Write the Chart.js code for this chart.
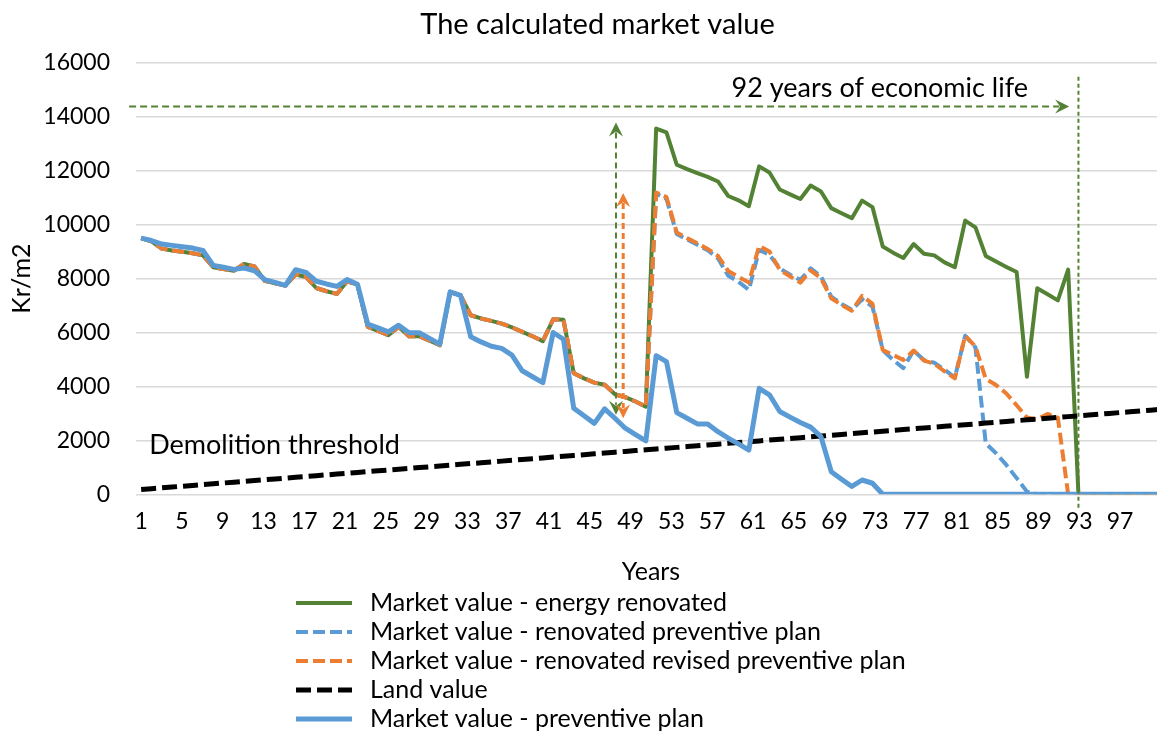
<!DOCTYPE html>
<html>
<head>
<meta charset="utf-8">
<title>The calculated market value</title>
<script src="https://cdn.jsdelivr.net/npm/chart.js"></script>
<style>
  html, body { margin: 0; padding: 0; background: #fff; overflow: hidden; }
  #wrap { width: 1195px; height: 733px; }
</style>
</head>
<body>
<div id="wrap"><canvas id="myChart" width="1195" height="733"></canvas></div>
<script>
// years 1..100 on the category axis
var years = [];
for (var y = 1; y <= 100; y++) years.push(String(y));
// the label axis of the original has one extra, empty category
var axisYears = years.concat(['']);

// values, Kr/m2
// years 1-50: the three renovated plans share the same values
var beforeRenovation = [
    9500, 9380, 9110, 9040, 8990, 8940, 8860, 8420, 8350, 8290,
    8540, 8450, 7920, 7820, 7740, 8150, 8060, 7650, 7530, 7430,
    7900, 7780, 6210, 6060, 5900, 6210, 5860, 5860, 5700, 5530,
    7500, 7380, 6640, 6520, 6430, 6330, 6190, 6020, 5860, 5680,
    6490, 6470, 4490, 4300, 4140, 4060, 3710, 3600, 3440, 3250
];
var energyRenovated = beforeRenovation.concat([
    13560, 13420, 12220, 12060, 11910, 11770, 11600, 11060, 10900, 10680,
    12160, 11930, 11300, 11120, 10950, 11450, 11230, 10610, 10420, 10240,
    10890, 10650, 9190, 8960, 8760, 9280, 8920, 8860, 8600, 8420,
    10150, 9900, 8840, 8630, 8430, 8240, 4360, 7640, 7420, 7190,
    8330, 0, 0, 0, 0, 0, 0, 0, 0, 0
]);
var renovatedPreventive = beforeRenovation.concat([
    11150, 10950, 9650, 9450, 9250, 9050, 8750, 8100, 7880, 7580,
    9060, 8880, 8380, 8140, 7950, 8380, 8080, 7330, 7060, 6840,
    7230, 6960, 5350, 4980, 4680, 5330, 4980, 4880, 4620, 4330,
    5880, 5450, 1890, 1520, 1090, 600, 100, 0, 0, 0,
    0, 0, 0, 0, 0, 0, 0, 0, 0, 0
]);
var renovatedRevised = beforeRenovation.concat([
    11190, 11020, 9710, 9500, 9310, 9100, 8840, 8280, 8060, 7850,
    9210, 9000, 8320, 8080, 7850, 8300, 8010, 7270, 7020, 6810,
    7360, 7060, 5350, 5170, 4980, 5330, 4960, 4840, 4560, 4300,
    5880, 5480, 4280, 4050, 3740, 3300, 2850, 2780, 2980, 2840,
    0, 0, 0, 0, 0, 0, 0, 0, 0, 0
]);
var landValue = [
    180, 210, 240, 270, 300, 330, 360, 390, 420, 450,
    480, 510, 540, 570, 600, 630, 660, 690, 720, 750,
    780, 810, 840, 870, 900, 930, 960, 990, 1020, 1050,
    1080, 1110, 1140, 1170, 1200, 1230, 1260, 1290, 1320, 1350,
    1380, 1410, 1440, 1470, 1500, 1530, 1560, 1590, 1620, 1650,
    1680, 1710, 1740, 1770, 1800, 1830, 1860, 1890, 1920, 1950,
    1980, 2010, 2040, 2070, 2100, 2130, 2160, 2190, 2220, 2250,
    2280, 2310, 2340, 2370, 2400, 2430, 2460, 2490, 2520, 2550,
    2580, 2610, 2640, 2670, 2700, 2730, 2760, 2790, 2820, 2850,
    2880, 2910, 2940, 2970, 3000, 3030, 3060, 3090, 3120, 3150
];
var preventivePlan = [
    9500, 9410, 9280, 9230, 9180, 9130, 9040, 8490, 8420, 8340,
    8390, 8290, 7960, 7860, 7750, 8330, 8230, 7900, 7800, 7710,
    7960, 7790, 6310, 6170, 6020, 6270, 5990, 5990, 5780, 5570,
    7510, 7380, 5840, 5650, 5490, 5410, 5160, 4580, 4360, 4140,
    6000, 5750, 3190, 2910, 2630, 3170, 2820, 2450, 2210, 1980,
    5140, 4920, 3030, 2820, 2610, 2610, 2320, 2080, 1870, 1640,
    3930, 3690, 3070, 2860, 2660, 2490, 2140, 840, 560, 290,
    530, 410, 0, 0, 0, 0, 0, 0, 0, 0,
    0, 0, 0, 0, 0, 0, 0, 0, 0, 0,
    0, 0, 0, 0, 0, 0, 0, 0, 0, 0
];
var yTicks = [0, 2000, 4000, 6000, 8000, 10000, 12000, 14000, 16000];

var green = '#548235';
var blue = '#5b9bd5';
var orange = '#ed7d31';
var txt = '#000000';
var fam = 'Lato, "Open Sans", sans-serif';

// drawn notes: arrows and texts, placed with the chart scales
var notesPlugin = {
    id: 'notes',
    afterDatasetsDraw: function (chart) {
        var c = chart.ctx;
        var xs = chart.scales.x, ys = chart.scales.y;

        function head(x, y, dx, dy, len, half, color) {
            // stealth style arrow head pointing along (dx, dy)
            var px = -dy, py = dx;
            c.save();
            c.setLineDash([]);
            c.fillStyle = color;
            c.beginPath();
            c.moveTo(x, y);
            c.lineTo(x - dx * len + px * half, y - dy * len + py * half);
            c.lineTo(x - dx * len * 0.65, y - dy * len * 0.65);
            c.lineTo(x - dx * len - px * half, y - dy * len - py * half);
            c.closePath();
            c.fill();
            c.restore();
        }
        function dashed(x1, y1, x2, y2, color, width, dash) {
            c.save();
            c.strokeStyle = color;
            c.lineWidth = width;
            c.setLineDash(dash);
            c.beginPath();
            c.moveTo(x1, y1);
            c.lineTo(x2, y2);
            c.stroke();
            c.restore();
        }

        // 92 years of economic life arrow
        var ya = ys.getPixelForValue(14380);
        var xa1 = xs.getPixelForValue(-1.17);
        var xa2 = xs.getPixelForValue(90.1);
        dashed(xa1, ya, xa2 - 10, ya, green, 2, [7, 4]);
        head(xa2, ya, 1, 0, 14, 7, green);

        // end of life line at year 92
        var xl = xs.getPixelForValue(91);
        dashed(xl, ys.getPixelForValue(15480), xl, ys.getPixelForValue(-580), green, 2, [4, 3]);

        // renovation gain arrows
        var gains = [
            {at: 46.1, low: 2950, high: 13790, color: green, width: 2},
            {at: 46.8, low: 2820, high: 11170, color: orange, width: 3}
        ];
        gains.forEach(function (g) {
            var x = xs.getPixelForValue(g.at);
            var yl = ys.getPixelForValue(g.low);
            var yh = ys.getPixelForValue(g.high);
            dashed(x, yh + 10, x, yl - 10, g.color, g.width, [6, 4]);
            head(x, yh, 0, -1, 14, 7, g.color);
            head(x, yl, 0, 1, 14, 7, g.color);
        });

        c.save();
        c.fillStyle = txt;
        c.font = '27px ' + fam;
        c.textBaseline = 'middle';
        c.textAlign = 'right';
        c.fillText('92 years of economic life', xs.getPixelForValue(86.1), ys.getPixelForValue(15050));
        c.textAlign = 'left';
        c.fillText('Demolition threshold', xs.getPixelForValue(0.78), ys.getPixelForValue(1830));
        c.restore();
    },
    afterDraw: function (chart) {
        // legend as a single column under the axis title
        var c = chart.ctx;
        c.save();
        chart.data.datasets.forEach(function (ds, i) {
            var yy = 603 + i * 29;
            c.strokeStyle = ds.borderColor;
            c.lineWidth = ds.borderWidth;
            c.setLineDash(ds.borderDash || []);
            c.beginPath();
            c.moveTo(296, yy);
            c.lineTo(352, yy);
            c.stroke();
            c.setLineDash([]);
            c.fillStyle = txt;
            c.font = '25px ' + fam;
            c.textBaseline = 'middle';
            c.textAlign = 'left';
            c.fillText(ds.label, 370, yy);
        });
        c.restore();
    }
};

var ctx = document.getElementById("myChart");
var myChart = new Chart(ctx, {
    type: 'line',
    data: {
        labels: years,
        datasets: [{
                label: 'Market value - energy renovated',
                data: energyRenovated,
                xAxisID: 'x',
                yAxisID: 'y',
                borderColor: green,
                backgroundColor: green,
                borderWidth: 4,
                order: 4
            }, {
                label: 'Market value - renovated preventive plan',
                data: renovatedPreventive,
                xAxisID: 'x',
                yAxisID: 'y',
                borderColor: blue,
                backgroundColor: blue,
                borderWidth: 4,
                borderDash: [12, 5],
                order: 3
            }, {
                label: 'Market value - renovated revised preventive plan',
                data: renovatedRevised,
                xAxisID: 'x',
                yAxisID: 'y',
                borderColor: orange,
                backgroundColor: orange,
                borderWidth: 4,
                borderDash: [12, 5],
                order: 2
            }, {
                label: 'Land value',
                data: landValue,
                xAxisID: 'x',
                yAxisID: 'y',
                borderColor: '#000000',
                backgroundColor: '#000000',
                borderWidth: 5,
                borderDash: [15, 6],
                order: 1
            }, {
                label: 'Market value - preventive plan',
                data: preventivePlan,
                xAxisID: 'x',
                yAxisID: 'y',
                borderColor: blue,
                backgroundColor: blue,
                borderWidth: 5,
                order: 0
            }]
    },
    options: {
        responsive: false,
        animation: false,
        elements: {
            point: {radius: 0, hoverRadius: 0},
            line: {tension: 0, borderCapStyle: 'butt', borderJoinStyle: 'round'}
        },
        layout: {padding: 0},
        plugins: {
            legend: {display: false},
            tooltip: {enabled: false},
            title: {
                display: true,
                text: 'The calculated market value',
                color: txt,
                font: {family: fam, size: 29, weight: 'normal'},
                padding: {top: 7, bottom: 21}
            }
        },
        scales: {
            // data axis (hidden), 100 years
            x: {
                display: false,
                offset: true
            },
            // label axis, as in the original it has 101 slots
            xl: {
                type: 'category',
                position: 'bottom',
                labels: axisYears,
                offset: true,
                grid: {display: false, drawTicks: false},
                border: {display: false},
                ticks: {
                    autoSkip: false,
                    maxRotation: 0,
                    minRotation: 0,
                    padding: 13,
                    color: txt,
                    font: {family: fam, size: 23},
                    callback: function (v, i) {
                        return i % 4 === 0 ? axisYears[i] : '';
                    }
                },
                title: {
                    display: true,
                    text: 'Years',
                    color: txt,
                    font: {family: fam, size: 25},
                    padding: {top: 0, bottom: 146}
                },
                afterFit: function (s) {
                    s.height = 238.7;
                }
            },
            y: {
                min: 0,
                max: 16000,
                afterBuildTicks: function (s) {
                    s.ticks = yTicks.map(function (v) { return {value: v}; });
                },
                grid: {color: '#d9d9d9', lineWidth: 1.5, drawTicks: false},
                border: {display: false},
                ticks: {
                    padding: 26,
                    color: txt,
                    font: {family: fam, size: 23},
                    callback: function (v) { return String(v); }
                },
                title: {
                    display: true,
                    text: 'Kr/m2',
                    color: txt,
                    font: {family: fam, size: 25},
                    padding: {top: 7, bottom: 0}
                },
                afterFit: function (s) {
                    s.width = 136;
                }
            },
            // empty right margin, so the title stays centred on the whole chart
            yr: {
                position: 'right',
                grid: {display: false, drawTicks: false},
                border: {display: false},
                ticks: {display: false},
                afterFit: function (s) {
                    s.width = 29;
                }
            }
        }
    },
    plugins: [notesPlugin]
});
</script>
</body>
</html>
